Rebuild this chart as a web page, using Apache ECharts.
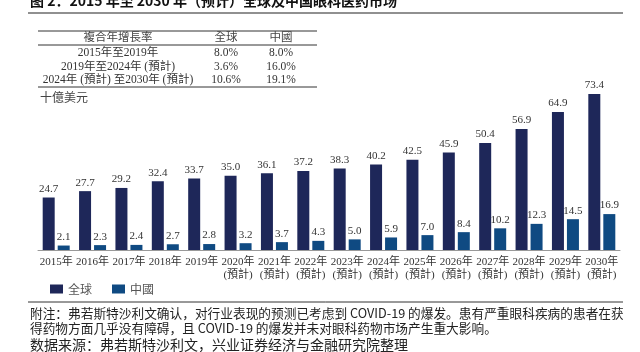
<!DOCTYPE html>
<html><head><meta charset="utf-8">
<script src="https://cdn.jsdelivr.net/npm/echarts@6/dist/echarts.min.js"></script>
<style>html,body{margin:0;padding:0;background:#fff}#c{width:640px;height:352px}</style>
</head><body><div id="c"></div>
<script>
const years = ['2015年','2016年','2017年','2018年','2019年','2020年','2021年','2022年','2023年','2024年','2025年','2026年','2027年','2028年','2029年','2030年'];
const forecastFrom = 5;
const globalValues = [24.7,27.7,29.2,32.4,33.7,35.0,36.1,37.2,38.3,40.2,42.5,45.9,50.4,56.9,64.9,73.4];
const chinaValues = [2.1,2.3,2.4,2.7,2.8,3.2,3.7,4.3,5.0,5.9,7.0,8.4,10.2,12.3,14.5,16.9];
const seriesNames = ['全球','中國'];
const tableHeader = ['複合年增長率','全球','中國'];
const tablePeriods = ['2015年至2019年','2019年至2024年 (預計)','2024年 (預計) 至2030年 (預計)'];
const tableGlobal = ['8.0%','3.6%','10.6%'];
const tableChina = ['8.0%','16.0%','19.1%'];
const titleText = '图 2：2015 年至 2030 年（预计）全球及中国眼科医药市场';
const unitText = '十億美元';
const note1 = '附注：弗若斯特沙利文确认，对行业表现的预测已考虑到 COVID-19 的爆发。患有严重眼科疾病的患者在获';
const note2 = '得药物方面几乎没有障碍，且 COVID-19 的爆发并未对眼科药物市场产生重大影响。';
const sourceText = '数据来源：弗若斯特沙利文，兴业证券经济与金融研究院整理';

const categories = years.map((y,i)=> i>=forecastFrom ? y+'\n(預計)' : y);
const serif = '"Liberation Serif","Noto Sans CJK TC",serif';
const cjk = '"Noto Sans CJK SC",sans-serif';

const graphics = [];
graphics.push({type:'text',left:30,top:-6,style:{text:titleText,font:'bold 14px '+cjk,fill:'#111'}});
graphics.push({type:'line',shape:{x1:28,y1:13,x2:623,y2:13},style:{stroke:'#222',lineWidth:1.2}});
[31,45,87].forEach(y=>graphics.push({type:'line',shape:{x1:38,y1:y,x2:317,y2:y},style:{stroke:'#333',lineWidth:1}}));
const colX = [118,226,281];
tableHeader.forEach((t,i)=>graphics.push({type:'text',x:colX[i],y:38,style:{text:t,font:'11.5px '+serif,fill:'#444',align:'center',verticalAlign:'middle'}}));
tablePeriods.forEach((t,r)=>{
  const y = 53 + r*13.5;
  [t,tableGlobal[r],tableChina[r]].forEach((v,i)=>graphics.push({type:'text',x:colX[i],y:y,style:{text:v,font:'11.5px '+serif,fill:'#333',align:'center',verticalAlign:'middle'}}));
});
graphics.push({type:'text',x:40,y:99,style:{text:unitText,font:'12px '+serif,fill:'#444',verticalAlign:'middle'}});
graphics.push({type:'line',shape:{x1:28,y1:302,x2:623,y2:302},style:{stroke:'#333',lineWidth:1}});
graphics.push({type:'text',x:30,y:313,style:{text:note1,font:'12.7px '+cjk,fill:'#222',verticalAlign:'middle'}});
graphics.push({type:'text',x:30,y:328,style:{text:note2,font:'12.7px '+cjk,fill:'#222',verticalAlign:'middle'}});
graphics.push({type:'text',x:30,y:345,style:{text:sourceText,font:'14px '+cjk,fill:'#222',verticalAlign:'middle'}});

const labelStyle = {show:true,position:'top',distance:3,color:'#333',fontFamily:serif,fontSize:11,
  formatter:p=>Number(p.value).toFixed(1)};
const chart = echarts.init(document.getElementById('c'));
chart.setOption({
  animation:false,
  backgroundColor:'#fff',
  grid:{left:38,right:20,top:80,bottom:102},
  legend:{left:45,top:278,itemWidth:13,itemHeight:9,itemGap:20,icon:'rect',
    textStyle:{fontFamily:cjk,fontSize:12,color:'#555'},data:seriesNames},
  xAxis:{type:'category',data:categories,
    axisLine:{lineStyle:{color:'#999'}},axisTick:{show:false},
    axisLabel:{interval:0,color:'#333',fontFamily:serif,fontSize:11,lineHeight:13,margin:6}},
  yAxis:{type:'value',min:0,max:80,show:false,splitLine:{show:false}},
  graphic:graphics,
  series:[
    {name:seriesNames[0],type:'bar',data:globalValues,barWidth:12,barGap:'25%',
      itemStyle:{color:'#1e2759'},label:labelStyle},
    {name:seriesNames[1],type:'bar',data:chinaValues,barWidth:12,
      itemStyle:{color:'#0f4a82'},label:labelStyle}
  ]
});
</script></body></html>
